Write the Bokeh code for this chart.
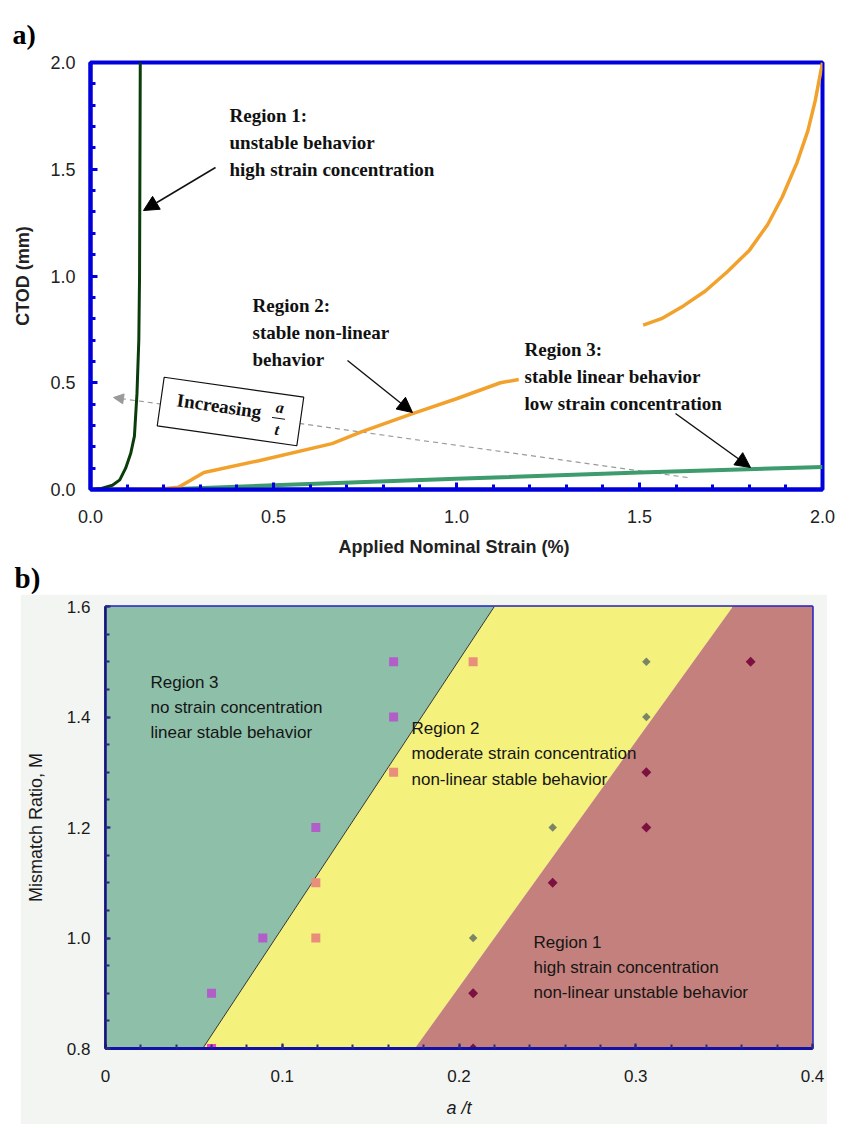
import numpy as np
from bokeh.plotting import figure
from bokeh.models import (Range1d, SingleIntervalTicker, CustomJSTickFormatter, Arrow,
                          NormalHead, Title, Spacer)
from bokeh.layouts import column, row
from bokeh.embed import file_html
from bokeh.resources import INLINE
from bokeh.core.properties import value

# ---------------- panel a) data ----------------
r1_strain = [0.0, 0.03, 0.06, 0.08, 0.096, 0.11, 0.12, 0.127, 0.132, 0.134, 0.135, 0.136]
r1_ctod = [0.0, 0.005, 0.02, 0.045, 0.10, 0.17, 0.25, 0.45, 0.70, 1.0, 1.5, 2.0]

r2_strain = [0.0, 0.10, 0.20, 0.24, 0.27, 0.31, 0.46, 0.66, 0.74, 0.88, 1.00, 1.12, 1.17,
             np.nan, 1.51, 1.56, 1.62, 1.68, 1.74, 1.80, 1.85, 1.89, 1.93, 1.96, 1.98, 2.00]
r2_ctod = [0.0, 0.0, 0.003, 0.01, 0.04, 0.08, 0.135, 0.215, 0.27, 0.355, 0.425, 0.50, 0.515,
           np.nan, 0.77, 0.80, 0.86, 0.93, 1.02, 1.12, 1.24, 1.37, 1.53, 1.68, 1.82, 2.00]

r3_strain = [0.20, 0.50, 1.00, 1.50, 2.00]
r3_ctod = [0.0, 0.02, 0.05, 0.08, 0.105]

# ---------------- panel b) data ----------------
bnd_y = [0.8, 1.6]
bnd1_x = [0.055, 0.22]     # region 3 / region 2 boundary
bnd2_x = [0.175, 0.355]    # region 2 / region 1 boundary

purple_x = [0.06, 0.089, 0.119, 0.163, 0.163]
purple_y = [0.9, 1.0, 1.2, 1.4, 1.5]
salmon_x = [0.119, 0.119, 0.163, 0.208]
salmon_y = [1.0, 1.1, 1.3, 1.5]
pink_x = [0.06]
pink_y = [0.8]
olive_x = [0.208, 0.253, 0.306, 0.306]
olive_y = [1.0, 1.2, 1.4, 1.5]
maroon_x = [0.208, 0.208, 0.253, 0.306, 0.306, 0.365]
maroon_y = [0.8, 0.9, 1.1, 1.2, 1.3, 1.5]

SERIF_NAME = "Liberation Serif"
SERIF = value(SERIF_NAME)
SANS = "Liberation Sans"

# ================= panel a =================
p1 = figure(width=841, height=594, x_range=Range1d(0, 2), y_range=Range1d(0, 2),
            output_backend="svg", toolbar_location=None, title="a)",
            min_border_left=90, min_border_right=19, min_border_top=62, min_border_bottom=105)
p1.title.align = "left"
p1.title.offset = -78
p1.title.standoff = 25
p1.title.text_font = SERIF_NAME
p1.title.text_font_style = "bold"
p1.title.text_font_size = "28px"
p1.title.text_color = "black"

p1.grid.visible = False
p1.outline_line_color = "#0000dd"
p1.outline_line_width = 4
p1.background_fill_color = "white"
p1.border_fill_color = "white"

for ax in (p1.xaxis[0], p1.yaxis[0]):
    ax.ticker = SingleIntervalTicker(interval=0.5, num_minor_ticks=5)
    ax.formatter = CustomJSTickFormatter(code="return tick.toFixed(1);")
    ax.axis_line_color = "#0000dd"
    ax.axis_line_width = 4
    ax.major_tick_in = 7
    ax.major_tick_out = 0
    ax.minor_tick_in = 5
    ax.minor_tick_out = 0
    ax.major_tick_line_color = "#0000dd"
    ax.minor_tick_line_color = "#0000dd"
    ax.major_tick_line_width = 3
    ax.minor_tick_line_width = 3
    ax.major_label_text_font = SANS
    ax.major_label_text_font_size = "18px"
    ax.major_label_text_color = "#222222"
    ax.axis_label_text_font = SANS
    ax.axis_label_text_font_style = "bold"
    ax.axis_label_text_font_size = "18px"
    ax.axis_label_text_color = "#222222"

p1.xaxis.axis_label = "Applied Nominal Strain  (%)"
p1.xaxis.major_label_standoff = 20
p1.xaxis.axis_label_standoff = 11
p1.yaxis.axis_label = "CTOD (mm)"
p1.yaxis.major_label_standoff = 15
p1.yaxis.axis_label_standoff = 14

p1.add_layout(Title(text="b)", align="left", offset=-76, standoff=0,
                    text_font=SERIF_NAME, text_font_style="bold", text_font_size="29px",
                    text_color="black"), "below")


def fx(px):
    return (px - 90) / 366.0


def fy(py):
    return (489 - py) / 213.5


# dashed "increasing" arrow drawn under everything
p1.add_layout(Arrow(end=NormalHead(size=10, fill_color="#9a9a9a", line_color="#9a9a9a"),
                    x_start=fx(687), y_start=fy(477), x_end=fx(113), y_end=fy(397),
                    line_color="#9a9a9a", line_width=1.2, line_dash="5 4", level="underlay"))

p1.line(r3_strain, r3_ctod, line_color="#3d9b6d", line_width=4)
p1.line(r2_strain, r2_ctod, line_color="#f2a22c", line_width=3.5)
p1.line(r1_strain, r1_ctod, line_color="#0b3d0b", line_width=3)

# rotated box "Increasing a/t"
th = np.arctan2(20, 140)
cx, cy = 230.0, 411.0


def rot(u, v):
    return cx + u * np.cos(th) - v * np.sin(th), cy + u * np.sin(th) + v * np.cos(th)


p1.rect(x=[fx(cx)], y=[fy(cy)], width=141, height=49, width_units="screen",
        height_units="screen", angle=-th, fill_color="white", line_color="#111111",
        line_width=1.2)
ix, iy = rot(-12, -4)
p1.text(x=[fx(ix)], y=[fy(iy)], text=["Increasing"], angle=-th, text_font=SERIF,
        text_font_style="bold", text_font_size="19px", text_align="center",
        text_baseline="middle", text_color="#111111")
axx, ayy = rot(48.5, -11)
tx, ty = rot(48.5, 11)
p1.text(x=[fx(axx), fx(tx)], y=[fy(ayy), fy(ty)], text=["a", "t"], angle=-th,
        text_font=SERIF, text_font_style="bold italic", text_font_size="16px",
        text_align="center", text_baseline="middle", text_color="#111111")
l0x, l0y = rot(42, 0)
l1x, l1y = rot(55, 0)
p1.segment(x0=[fx(l0x)], y0=[fy(l0y)], x1=[fx(l1x)], y1=[fy(l1y)], line_color="#111111",
           line_width=1)

# region annotations
reg_lines = ["Region 1:", "unstable behavior", "high strain concentration",
             "Region 2:", "stable non-linear", "behavior",
             "Region 3:", "stable linear behavior", "low strain concentration"]
reg_px = [229, 229, 229, 252, 252, 252, 524, 524, 524]
reg_py = [115, 142, 169, 305, 332, 359, 349, 376, 403]
p1.text(x=[fx(v) for v in reg_px], y=[fy(v) for v in reg_py], text=reg_lines,
        text_font=SERIF, text_font_style="bold", text_font_size="19px",
        text_align="left", text_baseline="alphabetic", text_color="#111111")

for (x0, y0, x1, y1) in [(215, 167, 143, 210), (347, 360, 412, 412), (675, 413, 750, 467)]:
    p1.add_layout(Arrow(end=NormalHead(size=15, fill_color="black", line_color="black"),
                        x_start=fx(x0), y_start=fy(y0), x_end=fx(x1), y_end=fy(y1),
                        line_color="#111111", line_width=1.5))

# ================= panel b =================
p2 = figure(width=807, height=530, x_range=Range1d(0, 0.4), y_range=Range1d(0.8, 1.6),
            output_backend="svg", toolbar_location=None,
            min_border_left=85, min_border_right=15, min_border_top=12, min_border_bottom=76)
p2.grid.visible = False
p2.border_fill_color = "#f3f5f2"
p2.background_fill_color = "#f3f5f2"
p2.outline_line_color = "#2222c4"
p2.outline_line_width = 2.5

top_y = bnd_y[1]
bot_y = bnd_y[0]
x_lo, x_hi = 0.0, 0.4
p2.patch([x_lo, bnd1_x[0], bnd1_x[1], x_lo], [bot_y, bot_y, top_y, top_y],
         fill_color="#8ebfa9", line_color=None)
p2.patch([bnd1_x[0], bnd2_x[0], bnd2_x[1], bnd1_x[1]], [bot_y, bot_y, top_y, top_y],
         fill_color="#f4f17c", line_color=None)
p2.patch([bnd2_x[0], x_hi, x_hi, bnd2_x[1]], [bot_y, bot_y, top_y, top_y],
         fill_color="#c4807c", line_color=None)
p2.line(bnd1_x, bnd_y, line_color="#333333", line_width=1)

p2.scatter(purple_x, purple_y, marker="square", size=9, fill_color="#b25ec8", line_color=None)
p2.scatter(salmon_x, salmon_y, marker="square", size=9, fill_color="#ea8e7c", line_color=None)
p2.scatter(pink_x, pink_y, marker="square", size=9, fill_color="#f040c0", line_color=None)
p2.scatter(olive_x, olive_y, marker="square", angle=np.pi / 4, size=6,
           fill_color="#7b8466", line_color=None)
p2.scatter(maroon_x, maroon_y, marker="square", angle=np.pi / 4, size=7,
           fill_color="#7c1040", line_color=None)


def gx(px):
    return (px - 105) / 1767.5


def gy(py):
    return 0.8 + (1048 - py) / 552.5


b_lines = ["Region 3", "no strain concentration", "linear stable behavior",
           "Region 2", "moderate strain concentration", "non-linear stable behavior",
           "Region 1", "high strain concentration", "non-linear unstable behavior"]
b_px = [150, 150, 150, 411, 411, 411, 533, 533, 533]
b_py = [682, 707, 732, 728, 753, 779, 942, 967, 992]
p2.text(x=[gx(v) for v in b_px], y=[gy(v) for v in b_py], text=b_lines,
        text_font=value(SANS), text_font_size="17px", text_align="left",
        text_baseline="alphabetic", text_color="#151515")

p2.xaxis.ticker = SingleIntervalTicker(interval=0.1, num_minor_ticks=5)
p2.yaxis.ticker = SingleIntervalTicker(interval=0.2, num_minor_ticks=4)
p2.xaxis.formatter = CustomJSTickFormatter(
    code="return Math.abs(tick) < 1e-9 ? '0' : tick.toFixed(1);")
p2.yaxis.formatter = CustomJSTickFormatter(code="return tick.toFixed(1);")
for ax in (p2.xaxis[0], p2.yaxis[0]):
    ax.major_tick_in = 5
    ax.major_tick_out = 0
    ax.minor_tick_in = 4
    ax.minor_tick_out = 0
    ax.major_tick_line_color = "#2a2a80"
    ax.minor_tick_line_color = "#2a2a80"
    ax.major_tick_line_width = 2
    ax.minor_tick_line_width = 2
    ax.major_label_text_font = SANS
    ax.major_label_text_font_size = "17px"
    ax.major_label_text_color = "#1a1a1a"
    ax.axis_label_text_font = SANS
    ax.axis_label_text_font_size = "18px"
    ax.axis_label_text_font_style = "normal"
    ax.axis_label_text_color = "#1a1a1a"
p2.xaxis.axis_line_color = "#1212a8"
p2.xaxis.axis_line_width = 3
p2.yaxis.axis_line_color = "#14147a"
p2.yaxis.axis_line_width = 2.5
p2.xaxis.major_label_standoff = 21
p2.yaxis.major_label_standoff = 15
p2.xaxis.axis_label = "a /t"
p2.xaxis.axis_label_text_font_style = "italic"
p2.xaxis.axis_label_standoff = 13
p2.yaxis.axis_label = "Mismatch Ratio, M"
p2.yaxis.axis_label_standoff = 18

layout = column(p1, row(Spacer(width=20, height=530), p2))
open("out.html", "w").write(file_html(layout, INLINE))
